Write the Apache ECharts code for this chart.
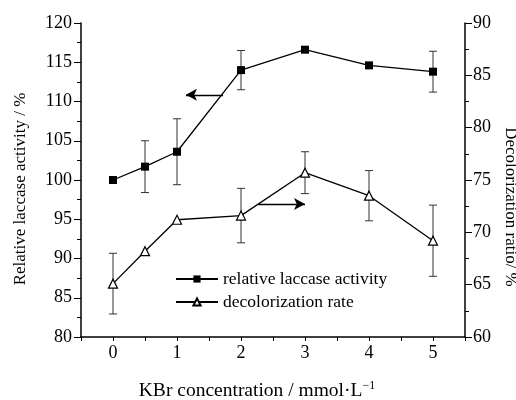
<!DOCTYPE html>
<html>
<head>
<meta charset="utf-8">
<script src="https://cdn.jsdelivr.net/npm/echarts@6/dist/echarts.min.js"></script>
<style>
  html, body { margin: 0; padding: 0; background: #fff; }
  #chart { width: 516px; height: 400px; }
</style>
</head>
<body>
<div id="chart"></div>
<script>
// KBr concentration, mmol/L
const kbr = [0, 0.5, 1, 2, 3, 4, 5]
// relative laccase activity (left axis) and its error
const laccase = [100.0, 101.7, 103.6, 114.0, 116.6, 114.6, 113.8]
const laccaseErr = [0, 3.3, 4.2, 2.5, 0, 0, 2.6]
// decolorization rate (right axis) and its error
const decolor = [65.1, 68.2, 71.2, 71.6, 75.7, 73.5, 69.2]
const decolorErr = [2.9, 0, 0, 2.6, 2.0, 2.4, 3.4]
// annotation arrows [x, y] start -> end
const leftArrow = [[1.72, 110.85], [1.14, 110.85]]
const rightArrow = [[2.27, 72.7], [3.0, 72.7]]

const FONT = 'Liberation Serif'
const chart = echarts.init(document.getElementById('chart'))

function pairs(ys) {
  return kbr.map((x, i) => [x, ys[i]])
}

function errData(ys, errs) {
  return kbr.map((x, i) => [x, ys[i], errs[i]]).filter(d => d[2] > 0)
}

function errorBars(api) {
  const x = api.value(0)
  const y = api.value(1)
  const e = api.value(2)
  const top = api.coord([x, y + e])
  const bot = api.coord([x, y - e])
  const w = 4
  const style = { stroke: '#333', lineWidth: 1 }
  return {
    type: 'group',
    children: [
      { type: 'line', shape: { x1: top[0], y1: top[1], x2: bot[0], y2: bot[1] }, style },
      { type: 'line', shape: { x1: top[0] - w, y1: top[1], x2: top[0] + w, y2: top[1] }, style },
      { type: 'line', shape: { x1: bot[0] - w, y1: bot[1], x2: bot[0] + w, y2: bot[1] }, style }
    ]
  }
}

const axisText = { color: '#000', fontFamily: FONT, fontSize: 18 }
const axisLine = { show: true, onZero: false, lineStyle: { color: '#000', width: 1.5 } }

function arrowLine(pts) {
  return {
    silent: true,
    symbol: ['none', 'arrow'],
    symbolSize: [9, 11],
    label: { show: false },
    lineStyle: { color: '#000', width: 1.3, type: 'solid' },
    data: [[{ coord: pts[0] }, { coord: pts[1] }]]
  }
}

chart.setOption({
  animation: false,
  grid: { left: 81, right: 51, top: 23, bottom: 63, outerBoundsMode: 'none', containLabel: false },
  legend: {
    orient: 'vertical',
    left: 175,
    top: 270,
    padding: 0,
    itemWidth: 42,
    itemHeight: 9,
    itemGap: 5,
    textStyle: { color: '#000', fontFamily: FONT, fontSize: 17.5 },
    data: ['relative laccase activity', 'decolorization rate']
  },
  xAxis: {
    type: 'value',
    min: -0.5,
    max: 5.5,
    interval: 0.5,
    name: 'KBr concentration / mmol·L{sup|−1}',
    nameLocation: 'middle',
    nameGap: 43,
    nameTextStyle: {
      color: '#000', fontFamily: FONT, fontSize: 19.5, padding: [0, 32, 0, 0],
      rich: { sup: { fontFamily: FONT, fontSize: 12, color: '#000', padding: [0, 0, 10, 0] } }
    },
    axisLine,
    axisTick: { inside: false, length: 4, lineStyle: { color: '#000' } },
    axisLabel: Object.assign({
      margin: 7,
      formatter: v => (Math.abs(v - Math.round(v)) < 1e-6 && v >= 0 && v <= 5) ? String(Math.round(v)) : ''
    }, axisText),
    splitLine: { show: false }
  },
  yAxis: [
    {
      type: 'value',
      min: 80,
      max: 120,
      interval: 5,
      position: 'left',
      name: 'Relative laccase activity / %',
      nameLocation: 'middle',
      nameRotate: 90,
      nameGap: 52,
      nameTextStyle: { color: '#000', fontFamily: FONT, fontSize: 17, padding: [0, 18, 0, 0] },
      axisLine,
      axisTick: { inside: false, length: 7, lineStyle: { color: '#000' } },
      minorTick: { show: true, splitNumber: 2, length: 4, lineStyle: { color: '#000' } },
      axisLabel: Object.assign({ margin: 9 }, axisText),
      splitLine: { show: false }
    },
    {
      type: 'value',
      min: 60,
      max: 90,
      interval: 5,
      position: 'right',
      name: 'Decolorization ratio/ %',
      nameLocation: 'middle',
      nameRotate: -90,
      nameGap: 34,
      nameTextStyle: { color: '#000', fontFamily: FONT, fontSize: 17, padding: [0, 0, 0, 54] },
      axisLine,
      axisTick: { inside: false, length: 7, lineStyle: { color: '#000' } },
      minorTick: { show: true, splitNumber: 2, length: 4, lineStyle: { color: '#000' } },
      axisLabel: Object.assign({ margin: 8 }, axisText),
      splitLine: { show: false }
    }
  ],
  series: [
    {
      name: 'laccase-err',
      type: 'custom',
      yAxisIndex: 0,
      silent: true,
      renderItem: (params, api) => errorBars(api),
      data: errData(laccase, laccaseErr),
      z: 1
    },
    {
      name: 'decolor-err',
      type: 'custom',
      yAxisIndex: 1,
      silent: true,
      renderItem: (params, api) => errorBars(api),
      data: errData(decolor, decolorErr),
      z: 1
    },
    {
      name: 'relative laccase activity',
      type: 'line',
      yAxisIndex: 0,
      data: pairs(laccase),
      symbol: 'rect',
      symbolSize: 8,
      itemStyle: { color: '#000' },
      lineStyle: { color: '#000', width: 1.3 },
      markLine: arrowLine(leftArrow),
      z: 3
    },
    {
      name: 'decolorization rate',
      type: 'line',
      yAxisIndex: 1,
      data: pairs(decolor),
      symbol: 'triangle',
      symbolSize: 9,
      itemStyle: { color: '#fff', borderColor: '#000', borderWidth: 1.2 },
      lineStyle: { color: '#000', width: 1.3 },
      markLine: arrowLine(rightArrow),
      z: 3
    }
  ]
})
</script>
</body>
</html>
